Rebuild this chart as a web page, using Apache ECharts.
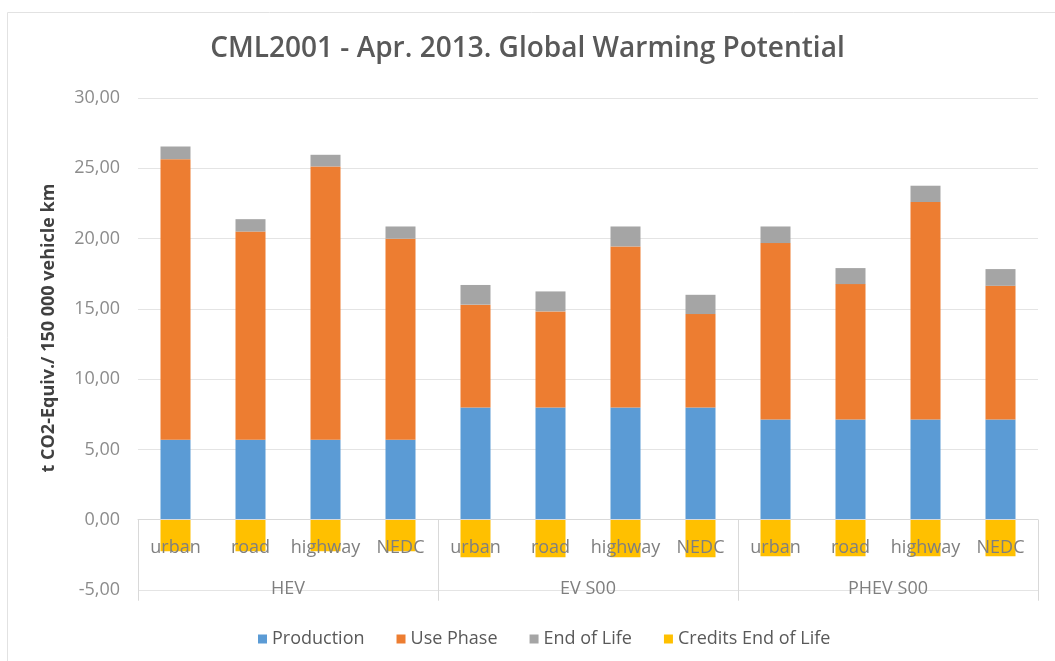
<!DOCTYPE html>
<html>
<head>
<meta charset="utf-8">
<script src="https://cdn.jsdelivr.net/npm/echarts@6/dist/echarts.min.js"></script>
<style>
html,body{margin:0;padding:0;background:#fff;}
#chart{width:1055px;height:661px;}
</style>
</head>
<body>
<div id="chart"></div>
<script>
const categories = ['urban','road','highway','NEDC','urban','road','highway','NEDC','urban','road','highway','NEDC'];
const groups = ['HEV','EV S00','PHEV S00'];
const production = [5.69,5.69,5.69,5.69, 7.99,7.99,7.99,7.99, 7.13,7.13,7.13,7.13];
const usePhase = [19.96,14.81,19.44,14.30, 7.31,6.83,11.45,6.64, 12.55,9.63,15.47,9.51];
const endOfLife = [0.90,0.88,0.83,0.87, 1.40,1.42,1.42,1.37, 1.18,1.14,1.16,1.19];
const creditsEOL = [-2.25,-2.25,-2.25,-2.25, -2.67,-2.67,-2.67,-2.67, -2.60,-2.60,-2.60,-2.60];
const seriesNames = ['Production','Use Phase','End of Life','Credits End of Life'];
const colors = ['#5B9BD5','#ED7D31','#A5A5A5','#FFC000'];
const yTicks = {min:-5, max:30, interval:5};

const font = "'Open Sans', 'Noto Sans', sans-serif";
const W = 1055, H = 661;
const gridTop = 98, gridBottom = 71;
const plotH = H - gridTop - gridBottom;
// place the category axes on the value 0 line of the y axis
const zeroOffset = -(0 - yTicks.min) / (yTicks.max - yTicks.min) * plotH;

const chart = echarts.init(document.getElementById('chart'));
const dataSets = [production, usePhase, endOfLife, creditsEOL];
chart.setOption({
  animation:false,
  color: colors,
  graphic: [{
    type:'rect', z:-10, silent:true,
    shape:{x:7.5,y:12.5,width:1100,height:700},
    style:{fill:'none',stroke:'#e2e2e2',lineWidth:1}
  }],
  title:{
    text:'CML2001 - Apr. 2013. Global Warming Potential',
    left:'center', top:30,
    textStyle:{fontFamily:font,fontSize:28,fontWeight:600,color:'#595959'}
  },
  legend:{
    data: seriesNames, top:625, left:253,
    itemWidth:9, itemHeight:9, itemGap:32, icon:'rect',
    textStyle:{fontFamily:font,fontSize:18,color:'#595959'}
  },
  grid:{left:138,right:17,top:gridTop,bottom:gridBottom,containLabel:false},
  xAxis:[{
    type:'category', data:categories, z:10, position:'bottom', offset:zeroOffset,
    axisLine:{show:true,onZero:false,lineStyle:{color:'#d9d9d9',width:1}},
    axisTick:{show:false},
    axisLabel:{interval:0,margin:19,fontFamily:font,fontSize:18,color:'#7f7f7f'}
  },{
    type:'category', data:groups, z:10, position:'bottom', offset:zeroOffset,
    axisLine:{show:false,onZero:false},
    axisTick:{show:true,length:81,interval:0,alignWithLabel:false,lineStyle:{color:'#d9d9d9'}},
    axisLabel:{interval:0,margin:60,fontFamily:font,fontSize:18,color:'#7f7f7f'}
  }],
  yAxis:{
    type:'value', min:yTicks.min, max:yTicks.max, interval:yTicks.interval,
    axisLine:{show:false}, axisTick:{show:false},
    splitLine:{lineStyle:{color:'#e4e4e4',width:1}},
    axisLabel:{margin:18,fontFamily:font,fontSize:18,color:'#8c8c8c',
      formatter:v=>v.toFixed(2).replace('.',',')},
    name:'t CO2-Equiv./ 150 000 vehicle km', nameLocation:'middle', nameGap:80,
    nameTextStyle:{fontFamily:font,fontSize:18,fontWeight:'bold',color:'#404040',padding:[0,0,0,32]}
  },
  series: seriesNames.map((n,i)=>({
    name:n, type:'bar', stack:'total', barWidth:'40%', xAxisIndex:0,
    data:dataSets[i], itemStyle:{color:colors[i]}
  }))
});
</script>
</body>
</html>
